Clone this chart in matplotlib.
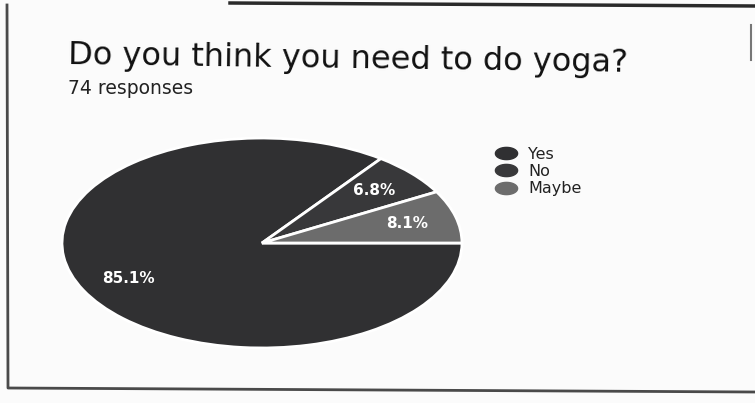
import matplotlib.pyplot as plt
from matplotlib.path import Path
import numpy as np

plt.rcParams['font.family'] = ['DejaVu Sans']

# Survey answers (74 responses)
labels = ['Yes', 'No', 'Maybe']
counts = [63, 5, 6]
colors = ['#303032', '#38383a', '#6c6c6c']

fig = plt.figure(figsize=(7.55, 4.03), dpi=100)
fig.patch.set_facecolor('#fbfbfb')

# edges of the printed page (pixel-ish coords)
bg = fig.add_axes([0, 0, 1, 1], zorder=-5)
bg.axis('off')
bg.set_xlim(0, 755)
bg.set_ylim(403, 0)
bg.plot([7, 8, 755], [5, 388, 392], color='#4a4a4a', lw=2)
bg.plot([230, 755], [3, 6], color='#2a2a2a', lw=2.5)
bg.plot([751, 751], [25, 60], color='#777777', lw=1.5)

fig.text(0.09, 0.84, 'Do you think you need to do yoga?', fontsize=23, color='#111111',
         rotation=-0.8, rotation_mode='anchor')
fig.text(0.09, 0.805, '74 responses', fontsize=13.5, color='#222222', va='top')

# stretched axes so the pie comes out as an ellipse like the photo
ax = fig.add_axes([0.0821, 0.1365, 0.5298, 0.521])
wedges, texts, autotexts = ax.pie(counts, colors=colors, startangle=0, counterclock=False,
                                  autopct='%1.1f%%', pctdistance=0.75,
                                  wedgeprops=dict(edgecolor='white', linewidth=2),
                                  textprops=dict(color='white', fontsize=11, fontweight='bold'))
ax.set_aspect('auto')
ax.set_xlim(-1, 1)
ax.set_ylim(-1, 1)
ax.axis('off')

# flattened circle marker for the legend
t = np.linspace(0, 2 * np.pi, 40)
oval = Path(np.column_stack([np.cos(t), 0.55 * np.sin(t)]), closed=True)
handles = [plt.Line2D([], [], ls='none', marker=oval, markersize=16, color=c) for c in colors]

lax = fig.add_axes([0.65, 0.5, 0.2, 0.2])
lax.axis('off')
leg = lax.legend(handles, labels, loc='upper left', bbox_to_anchor=(-0.06, 0.86), frameon=False,
                 fontsize=11.5, handlelength=1.3, labelspacing=0.15, handletextpad=0.7)
for txt in leg.get_texts():
    txt.set_color('#222222')

fig.savefig('out.png', dpi=100, facecolor=fig.get_facecolor())
